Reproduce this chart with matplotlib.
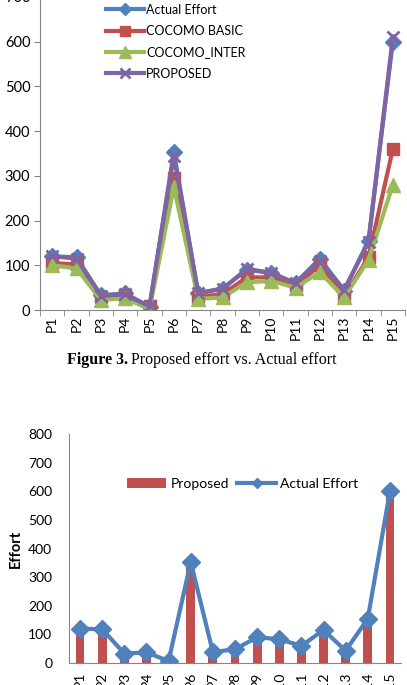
import matplotlib
matplotlib.use("Agg")
import matplotlib.pyplot as plt
import numpy as np

plt.rcParams['font.family'] = ['Lato', 'DejaVu Sans']

projects = ['P%d' % i for i in range(1, 16)]
actual = [120, 118, 33, 37, 7, 353, 38, 48, 90, 83, 60, 115, 43, 155, 600]
cocomo_basic = [105, 102, 30, 33, 8, 295, 30, 35, 73, 73, 55, 100, 30, 118, 360]
cocomo_inter = [100, 93, 23, 26, 2, 275, 25, 28, 62, 65, 50, 85, 28, 112, 280]
proposed = [120, 115, 32, 35, 8, 345, 38, 47, 92, 83, 60, 110, 45, 152, 610]
proposed_bar = [110, 105, 30, 33, 3, 340, 35, 45, 88, 80, 58, 105, 40, 150, 595]

W, H = 407, 685
fig = plt.figure(figsize=(W / 100, H / 100), dpi=100)
gray = '#868686'
x = np.arange(1, 16)

# ---- top chart ----
ax1 = fig.add_axes([40 / W, (H - 310) / H, 365 / W, 313 / H])
ax1.plot(x, actual, color='#4F81BD', lw=3, marker='D', ms=8, label='Actual Effort')
ax1.plot(x, cocomo_basic, color='#C0504D', lw=3, marker='s', ms=9, label='COCOMO BASIC')
ax1.plot(x, cocomo_inter, color='#9BBB59', lw=3, marker='^', ms=10, label='COCOMO_INTER')
ax1.plot(x, proposed, color='#8064A2', lw=3, marker='x', ms=9, mew=2, label='PROPOSED')
ax1.set_xlim(0.5, 15.5)
ax1.set_ylim(0, 700)
ax1.set_yticks(range(0, 701, 100))
ax1.set_xticks(x)
ax1.set_xticklabels(projects, rotation=90, fontsize=10)
ax1.set_xticks(np.arange(0.5, 16, 1), minor=True)
ax1.tick_params(axis='x', which='major', length=0, pad=4)
ax1.tick_params(axis='x', which='minor', length=4, color=gray, direction='out')
ax1.tick_params(axis='y', length=4, color=gray, labelsize=10.5, pad=3)
for s in ['top', 'right']:
    ax1.spines[s].set_visible(False)
for s in ['left', 'bottom']:
    ax1.spines[s].set_color(gray)
ax1.legend(loc='upper left', bbox_to_anchor=(0.15, 1.015), frameon=False,
           fontsize=9, handlelength=3, labelspacing=0.75, handletextpad=0.2,
           markerscale=0.8)

fig.text(128 / W, 1 - 360 / H, 'Figure 3.', family='Liberation Serif',
         weight='bold', fontsize=11.5, ha='right', va='center')
fig.text(131 / W, 1 - 360 / H, 'Proposed effort vs. Actual effort',
         family='Liberation Serif', fontsize=11.5, ha='left', va='center')

# ---- bottom chart ----
ax2 = fig.add_axes([69 / W, (H - 663) / H, 332 / W, 229 / H])
bars = ax2.bar(x, proposed_bar, width=0.4, color='#C0504D', label='Proposed')
line, = ax2.plot(x, actual, color='#4F81BD', lw=3, marker='D', ms=9, label='Actual Effort')
ax2.set_xlim(0.5, 15.5)
ax2.set_ylim(0, 800)
ax2.set_yticks(range(0, 801, 100))
ax2.set_xticks(x)
ax2.set_xticklabels(projects, rotation=90, fontsize=10)
ax2.tick_params(axis='x', length=0, pad=6)
ax2.tick_params(axis='y', length=0, labelsize=10, pad=12)
ax2.set_ylabel('Effort', fontsize=10.5, weight='bold', labelpad=4)
for s in ['top', 'right']:
    ax2.spines[s].set_visible(False)
for s in ['left', 'bottom']:
    ax2.spines[s].set_color(gray)
ax2.legend([bars, line], ['Proposed', 'Actual Effort'], loc='center',
           bbox_to_anchor=((243 - 69) / 332, (663 - 484) / 229),
           ncol=2, frameon=False, fontsize=10, handlelength=2.8,
           handletextpad=0.3, columnspacing=0.6, markerscale=0.6)

fig.savefig('out.png', dpi=100)
